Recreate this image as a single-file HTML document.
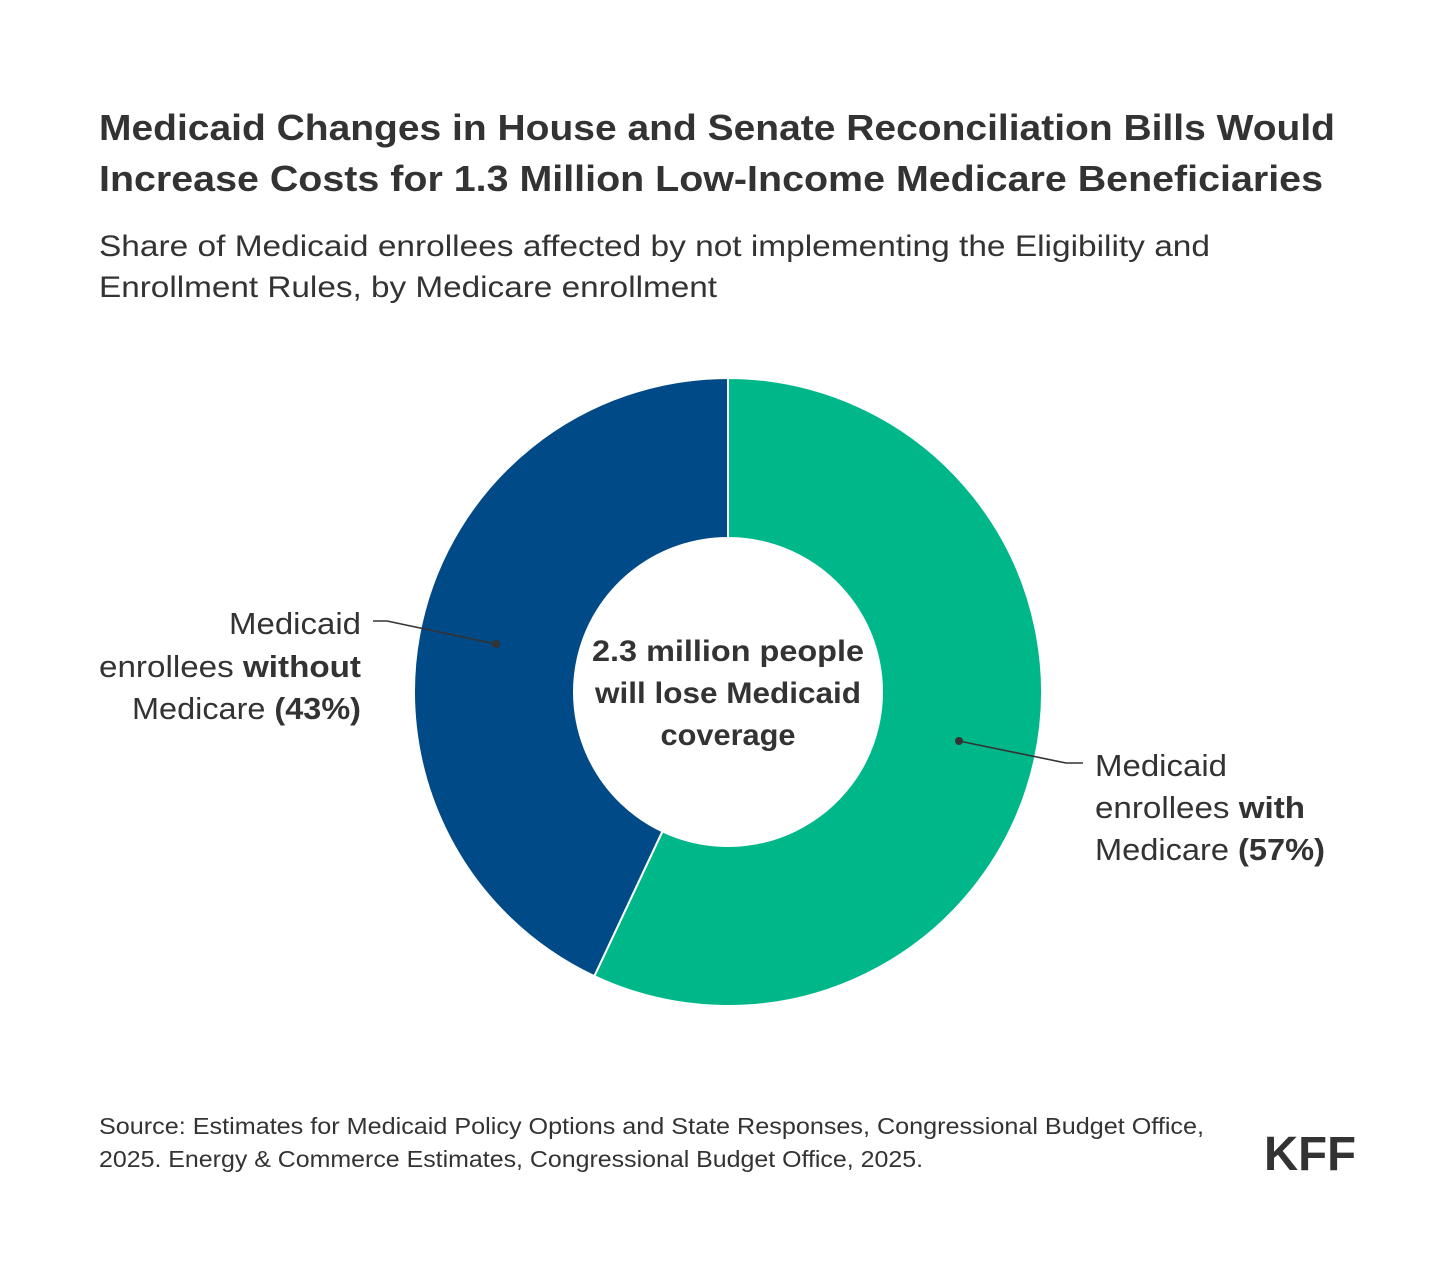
<!DOCTYPE html>
<html><head><meta charset="utf-8"><style>
html,body{margin:0;padding:0;background:#fff}
svg{display:block}
text{font-family:"Liberation Sans",sans-serif;fill:#333}
</style></head><body>
<svg width="1456" height="1273" viewBox="0 0 1456 1273">
<g font-weight="bold" font-size="36">
<text x="99" y="140" textLength="1236" lengthAdjust="spacingAndGlyphs">Medicaid Changes in House and Senate Reconciliation Bills Would</text>
<text x="99" y="191" textLength="1224" lengthAdjust="spacingAndGlyphs">Increase Costs for 1.3 Million Low-Income Medicare Beneficiaries</text>
</g>
<g font-size="30">
<text x="99" y="256" textLength="1111" lengthAdjust="spacingAndGlyphs">Share of Medicaid enrollees affected by not implementing the Eligibility and</text>
<text x="99" y="297" textLength="618" lengthAdjust="spacingAndGlyphs">Enrollment Rules, by Medicare enrollment</text>
</g>
<g id="donut"></g>
<g font-weight="bold" font-size="30" text-anchor="middle">
<text x="728" y="661" textLength="272" lengthAdjust="spacingAndGlyphs">2.3 million people</text>
<text x="728" y="703" textLength="266" lengthAdjust="spacingAndGlyphs">will lose Medicaid</text>
<text x="728" y="745" textLength="135" lengthAdjust="spacingAndGlyphs">coverage</text>
</g>
<g font-size="31">
<text x="229" y="634" textLength="132" lengthAdjust="spacingAndGlyphs">Medicaid</text>
<text x="99" y="677" textLength="262" lengthAdjust="spacingAndGlyphs">enrollees <tspan font-weight="bold">without</tspan></text>
<text x="132" y="719" textLength="229" lengthAdjust="spacingAndGlyphs">Medicare <tspan font-weight="bold">(43%)</tspan></text>
</g>
<g font-size="31">
<text x="1095" y="776" textLength="132" lengthAdjust="spacingAndGlyphs">Medicaid</text>
<text x="1095" y="818" textLength="210" lengthAdjust="spacingAndGlyphs">enrollees <tspan font-weight="bold">with</tspan></text>
<text x="1095" y="860" textLength="230" lengthAdjust="spacingAndGlyphs">Medicare <tspan font-weight="bold">(57%)</tspan></text>
</g>
<g stroke="#333" stroke-width="1.6" fill="none">
<polyline points="373,621 387,621 496,644"/>
<polyline points="959,741 1066,763 1083,763"/>
<circle cx="496" cy="644" r="4" fill="#333" stroke="none"/>
<circle cx="959" cy="741" r="4" fill="#333" stroke="none"/>
</g>
<g font-size="23">
<text x="99" y="1134" textLength="1105" lengthAdjust="spacingAndGlyphs">Source: Estimates for Medicaid Policy Options and State Responses, Congressional Budget Office,</text>
<text x="99" y="1167" textLength="824" lengthAdjust="spacingAndGlyphs">2025. Energy &amp; Commerce Estimates, Congressional Budget Office, 2025.</text>
</g>
<text x="1264" y="1170" font-size="48" font-weight="bold" fill="#222" textLength="92" lengthAdjust="spacingAndGlyphs">KFF</text>
</svg>
<script>
const categories = ["Medicaid enrollees with Medicare", "Medicaid enrollees without Medicare"];
const values = [57, 43];
const colors = ["#00b78a", "#004a87"];
const cx = 728, cy = 692, R = 314, r = 154;
const g = document.getElementById('donut');
const total = values.reduce((a, b) => a + b, 0);
let acc = 0;
function pt(rad, a) { return [cx + rad * Math.sin(a), cy - rad * Math.cos(a)]; }
values.forEach((v, i) => {
  const a0 = acc / total * 2 * Math.PI;
  acc += v;
  const a1 = acc / total * 2 * Math.PI;
  const large = (a1 - a0) > Math.PI ? 1 : 0;
  const [x0, y0] = pt(R, a0), [x1, y1] = pt(R, a1), [x2, y2] = pt(r, a1), [x3, y3] = pt(r, a0);
  const p = document.createElementNS('http://www.w3.org/2000/svg', 'path');
  p.setAttribute('d', `M${x0},${y0} A${R},${R} 0 ${large} 1 ${x1},${y1} L${x2},${y2} A${r},${r} 0 ${large} 0 ${x3},${y3} Z`);
  p.setAttribute('fill', colors[i]);
  p.setAttribute('stroke', '#fff');
  p.setAttribute('stroke-width', '2');
  
  
  g.appendChild(p);
});
</script>
</body></html>
